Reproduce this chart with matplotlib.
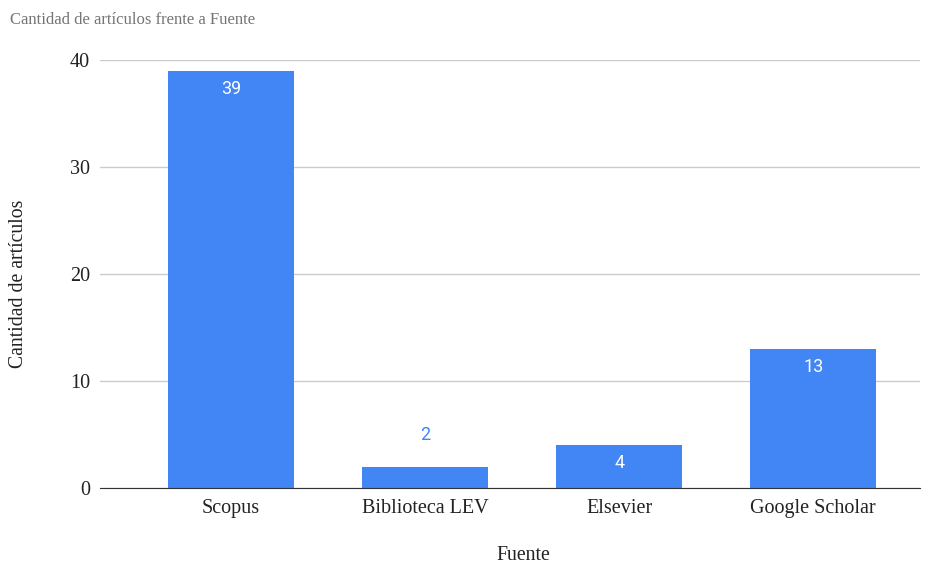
import matplotlib.pyplot as plt

fuentes = ["Scopus", "Biblioteca LEV", "Elsevier", "Google Scholar"]
articulos = [39, 2, 4, 13]

BLUE = "#4285F4"

fig = plt.figure(figsize=(9.34, 5.64), dpi=100)
ax = fig.add_axes([0.107, 0.1348, 0.878, 0.7588])

x = list(range(len(fuentes)))
ax.bar(x, articulos, width=0.65, color=BLUE, zorder=3)

ax.set_xlim(-0.675, 3.55)
ax.set_ylim(0, 40)
ax.set_yticks([0, 10, 20, 30, 40])
ax.set_xticks(x)
ax.set_xticklabels(fuentes)

ax.grid(axis="y", color="#cccccc", linewidth=1, zorder=0)
for s in ["top", "right", "left"]:
    ax.spines[s].set_visible(False)
ax.spines["bottom"].set_color("#333333")
ax.spines["bottom"].set_zorder(4)
ax.tick_params(length=0, labelsize=14.5)
ax.tick_params(axis="x", pad=8)
ax.tick_params(axis="y", pad=7)
for lab in ax.get_xticklabels() + ax.get_yticklabels():
    lab.set_family("Liberation Serif")
    lab.set_color("#222222")

# value labels
for xi, v in zip(x, articulos):
    if v >= 4:
        ax.annotate(str(v), (xi, v), xytext=(0, -13), textcoords="offset points",
                    ha="center", va="center", color="white", fontsize=13,
                    family="Roboto", zorder=5)
    else:
        ax.annotate(str(v), (xi, v), xytext=(0, 23), textcoords="offset points",
                    ha="center", va="center", color=BLUE, fontsize=13,
                    family="Roboto", zorder=5)

# axis titles
fig.text(523 / 934, 1 - 555 / 564, "Fuente", family="Liberation Serif", fontsize=14.2,
         color="#222222", ha="center", va="center")
fig.text(19 / 934, 1 - 284 / 564, "Cantidad de artículos", family="Liberation Serif",
         fontsize=14.2, color="#222222", ha="center", va="center", rotation=90)

fig.text(0.011, 0.965, "Cantidad de artículos frente a Fuente", family="Liberation Serif",
         fontsize=12, color="#757575", ha="left", va="center")

fig.savefig("out.png", dpi=100)
